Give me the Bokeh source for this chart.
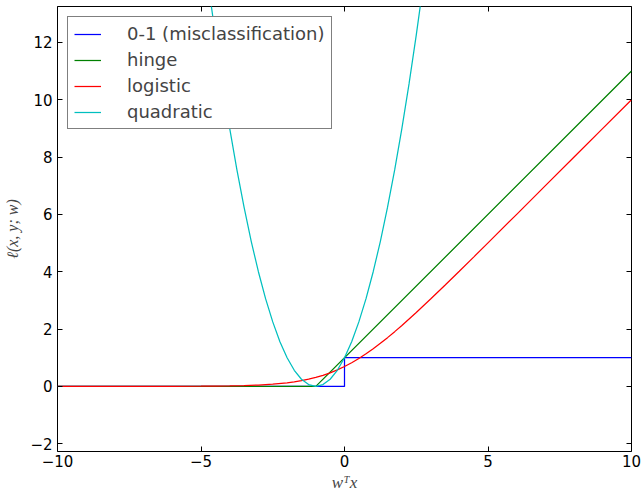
from bokeh.plotting import figure
from bokeh.models import (LinearAxis, FixedTicker, CustomJSTickFormatter, Legend,
                          LegendItem, Range1d)
from bokeh.embed import file_html
from bokeh.resources import INLINE

# ---- data ----
x_ticks = [-10, -5, 0, 5, 10]
y_ticks = [-2, 0, 2, 4, 6, 8, 10, 12]

x_01 = [-10, 0, 0, 10]
y_01 = [0, 0, 1, 1]

x_hinge = [-10, -1, 10]
y_hinge = [0, 0, 11]

x_logistic = [-10, -9, -8, -7, -6, -5, -4.5, -4, -3.5, -3, -2.5, -2, -1.75, -1.5,
              -1.25, -1, -0.75, -0.5, -0.25, 0, 0.25, 0.5, 0.75, 1, 1.25, 1.5,
              1.75, 2, 2.5, 3, 3.5, 4, 4.5, 5, 6, 7, 8, 9, 10]
y_logistic = [0.00005, 0.00012, 0.00034, 0.00091, 0.0025, 0.0067, 0.011, 0.018,
              0.030, 0.049, 0.079, 0.127, 0.160, 0.201, 0.252, 0.313, 0.387,
              0.474, 0.576, 0.693, 0.826, 0.974, 1.137, 1.313, 1.502, 1.701,
              1.910, 2.127, 2.579, 3.049, 3.530, 4.018, 4.511, 5.007, 6.002,
              7.001, 8.000, 9.000, 10.000]

x_quad = [-5, -4.75, -4.5, -4.25, -4, -3.75, -3.5, -3.25, -3, -2.75, -2.5, -2.25,
          -2, -1.75, -1.5, -1.25, -1, -0.75, -0.5, -0.25, 0, 0.25, 0.5, 0.75, 1,
          1.25, 1.5, 1.75, 2, 2.25, 2.5, 2.75, 3]
y_quad = [16, 14.06, 12.25, 10.56, 9, 7.56, 6.25, 5.06, 4, 3.06, 2.25, 1.56,
          1, 0.5625, 0.25, 0.0625, 0, 0.0625, 0.25, 0.5625, 1, 1.56, 2.25, 3.06, 4,
          5.06, 6.25, 7.56, 9, 10.56, 12.25, 14.06, 16]

labels = ["0-1 (misclassification)", "hinge", "logistic", "quadratic"]
colors = ["#0000ff", "#008000", "#ff0000", "#00bfbf"]

# ---- figure ----
p = figure(frame_width=574, frame_height=445,
           x_range=Range1d(-10, 10), y_range=Range1d(-2.27, 13.25),
           output_backend="svg", toolbar_location=None,
           x_axis_type=None, y_axis_type=None,
           min_border_left=57, min_border_right=11, min_border_top=6, min_border_bottom=40)
p.background_fill_color = "white"
p.border_fill_color = "white"
p.outline_line_color = "black"
p.outline_line_width = 1

fmt = CustomJSTickFormatter(code="return (tick < 0 ? '\\u2212' : '') + Math.abs(tick).toString();")
blank = CustomJSTickFormatter(code="return '';")

def make_axis(ticks, show_labels):
    ax = LinearAxis(ticker=FixedTicker(ticks=ticks), formatter=fmt if show_labels else blank)
    ax.axis_line_color = None
    ax.major_tick_in = 5
    ax.major_tick_out = 0
    ax.minor_tick_in = 0
    ax.minor_tick_out = 0
    ax.major_tick_line_color = "black"
    ax.major_tick_line_width = 1
    ax.major_label_text_font = "DejaVu Sans"
    ax.major_label_text_font_size = "15px"
    ax.major_label_text_color = "black"
    if not show_labels:
        ax.major_label_standoff = 0
    return ax

xb = make_axis(x_ticks, True)
xb.major_label_standoff = 3
xb.axis_label = "wᵀx"
xb.axis_label_text_font = "Liberation Serif"
xb.axis_label_text_font_style = "italic"
xb.axis_label_text_font_size = "17px"
xb.axis_label_standoff = 3
p.add_layout(xb, "below")

yl = make_axis(y_ticks, True)
yl.major_label_standoff = 5
yl.axis_label = "ℓ(x, y; w)"
yl.axis_label_text_font = "Liberation Serif"
yl.axis_label_text_font_style = "italic"
yl.axis_label_text_font_size = "16px"
yl.axis_label_standoff = 6
p.add_layout(yl, "left")

p.add_layout(make_axis(x_ticks, False), "above")
p.add_layout(make_axis(y_ticks, False), "right")

r1 = p.line(x_01, y_01, line_color=colors[0], line_width=1.25)
r2 = p.line(x_hinge, y_hinge, line_color=colors[1], line_width=1.25)
r3 = p.line(x_logistic, y_logistic, line_color=colors[2], line_width=1.25)
r4 = p.line(x_quad, y_quad, line_color=colors[3], line_width=1.25)

legend = Legend(items=[LegendItem(label=l, renderers=[r]) for l, r in zip(labels, [r1, r2, r3, r4])],
                location="top_left", margin=10, padding=6, spacing=5,
                glyph_width=27, glyph_height=10, label_height=10, label_standoff=26,
                label_text_font="DejaVu Sans", label_text_font_size="18px",
                border_line_color="black", border_line_width=1,
                background_fill_color="white", background_fill_alpha=1)
p.add_layout(legend)

open("out.html", "w").write(file_html(p, INLINE))
